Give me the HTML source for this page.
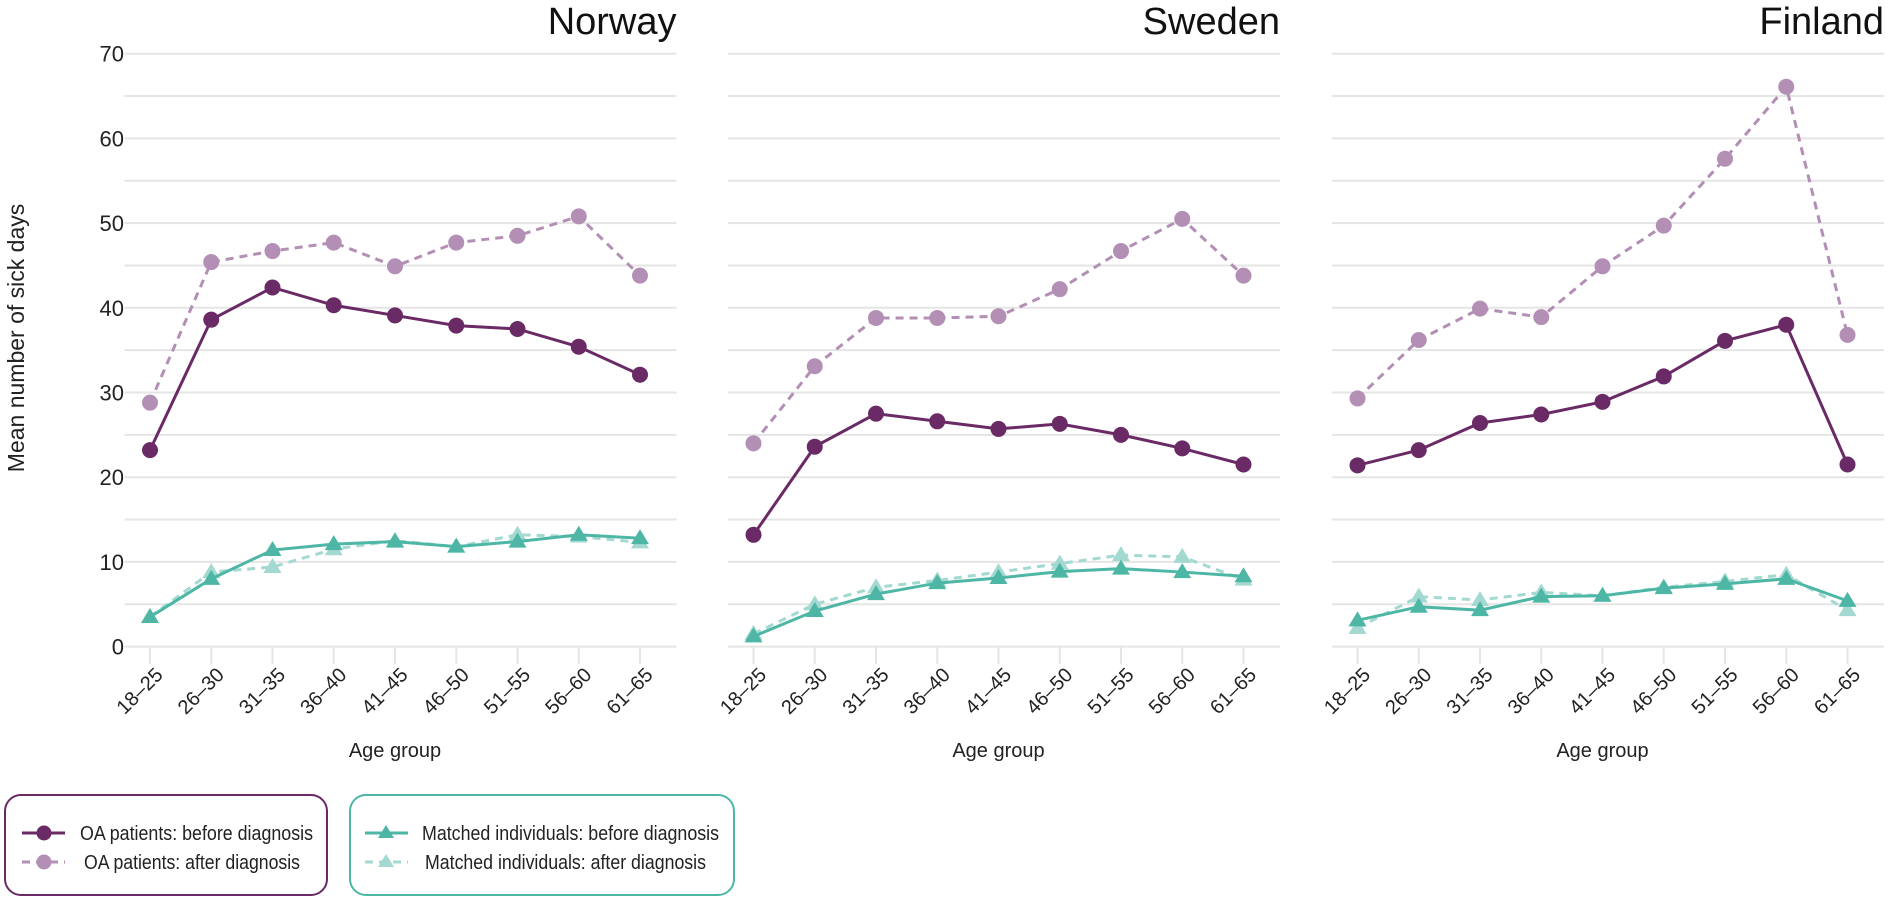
<!DOCTYPE html>
<html><head><meta charset="utf-8"><style>
html,body{margin:0;padding:0;background:#fff;}
svg{display:block;font-family:"Liberation Sans",sans-serif;}
</style></head><body>
<svg id="chart" width="1889" height="902" viewBox="0 0 1889 902" xmlns="http://www.w3.org/2000/svg">
<text x="0" y="0" transform="translate(24,338) rotate(-90)" text-anchor="middle" font-size="23" fill="#222">Mean number of sick days</text>
<g id="plots"></g>
<g>
<rect x="5" y="795" width="322" height="100" rx="16" fill="none" stroke="#6a2a66" stroke-width="2"/>
<line x1="22" y1="833" x2="65" y2="833" stroke="#6a2a66" stroke-width="3"/><circle cx="44" cy="833" r="7.5" fill="#6a2a66"/>
<text x="80" y="840" font-size="20" textLength="233" lengthAdjust="spacingAndGlyphs" fill="#222">OA patients: before diagnosis</text>
<line x1="22" y1="862" x2="65" y2="862" stroke="#b38fb5" stroke-width="3" stroke-dasharray="8 6"/><circle cx="44" cy="862" r="7.5" fill="#b38fb5"/>
<text x="84" y="869" font-size="20" textLength="216" lengthAdjust="spacingAndGlyphs" fill="#222">OA patients: after diagnosis</text>
</g>
<g>
<rect x="350" y="795" width="384" height="100" rx="16" fill="none" stroke="#4db6a5" stroke-width="2"/>
<line x1="365" y1="833" x2="408" y2="833" stroke="#4db6a5" stroke-width="3"/><polygon points="386,825 394,838 378,838" fill="#4db6a5"/>
<text x="422" y="840" font-size="20" textLength="297" lengthAdjust="spacingAndGlyphs" fill="#222">Matched individuals: before diagnosis</text>
<line x1="365" y1="862" x2="408" y2="862" stroke="#a3d9d1" stroke-width="3" stroke-dasharray="8 6"/><polygon points="386,854 394,867 378,867" fill="#a3d9d1"/>
<text x="425" y="869" font-size="20" textLength="281" lengthAdjust="spacingAndGlyphs" fill="#222">Matched individuals: after diagnosis</text>
</g>
</svg>
<script>
const categories = ["18–25","26–30","31–35","36–40","41–45","46–50","51–55","56–60","61–65"];
const countries = ["Norway","Sweden","Finland"];
const yTicks = [0,10,20,30,40,50,60,70];
const norwayOaBefore = [23.2,38.6,42.4,40.3,39.1,37.9,37.5,35.4,32.1];
const norwayOaAfter = [28.8,45.4,46.7,47.7,44.9,47.7,48.5,50.8,43.8];
const norwayMatchedBefore = [3.5,8.0,11.4,12.1,12.4,11.8,12.4,13.2,12.8];
const norwayMatchedAfter = [3.5,8.8,9.4,11.5,12.5,11.8,13.2,13.0,12.3];
const swedenOaBefore = [13.2,23.6,27.5,26.6,25.7,26.3,25.0,23.4,21.5];
const swedenOaAfter = [24.0,33.1,38.8,38.8,39.0,42.2,46.7,50.5,43.8];
const swedenMatchedBefore = [1.2,4.2,6.2,7.5,8.1,8.85,9.2,8.8,8.3];
const swedenMatchedAfter = [1.5,5.0,7.0,7.8,8.8,9.8,10.8,10.6,7.9];
const finlandOaBefore = [21.4,23.2,26.4,27.4,28.9,31.9,36.1,38.0,21.5];
const finlandOaAfter = [29.3,36.2,39.9,38.9,44.9,49.7,57.6,66.1,36.8];
const finlandMatchedBefore = [3.1,4.7,4.3,5.9,6.0,6.9,7.4,8.0,5.4];
const finlandMatchedAfter = [2.2,5.9,5.5,6.4,6.0,7.0,7.7,8.5,4.3];

const panelData = [
 [norwayOaBefore,norwayOaAfter,norwayMatchedBefore,norwayMatchedAfter],
 [swedenOaBefore,swedenOaAfter,swedenMatchedBefore,swedenMatchedAfter],
 [finlandOaBefore,finlandOaAfter,finlandMatchedBefore,finlandMatchedAfter]
];
const NS="http://www.w3.org/2000/svg";
const root=document.getElementById('plots');
function mk(tag,attrs,parent){const e=document.createElementNS(NS,tag);for(const k in attrs)e.setAttribute(k,attrs[k]);(parent||root).appendChild(e);return e;}
const y0=646.6, yPer=8.47;
function yScale(v){return y0-v*yPer;}
const gridStarts=[124.5,728,1332], gridW=552;
const seriesStyle=[
 {name:'oa-before',color:'#6a2a66',dash:null,shape:'circle'},
 {name:'oa-after',color:'#b38fb5',dash:'8 6',shape:'circle'},
 {name:'matched-before',color:'#4db6a5',dash:null,shape:'tri'},
 {name:'matched-after',color:'#a3d9d1',dash:'8 6',shape:'tri'}
];
countries.forEach((c,pi)=>{
 const gx=gridStarts[pi];
 const xFirst=gx+25.5, step=61.25;
 const xScale=i=>xFirst+i*step;
 const g=mk('g',{});
 
 
 for(let v=0;v<=70;v+=5){
  const l=mk('line',{x1:gx,x2:gx+gridW,y1:yScale(v),y2:yScale(v),stroke:'#e5e5e5','stroke-width':2},g);
  
  
 }
 if(pi===0){
  yTicks.forEach(v=>{
   const t=mk('text',{x:124,y:yScale(v)+8,'text-anchor':'end','font-size':22,fill:'#222'},g);
   
   
   t.textContent=v;
  });
 }
 const title=mk('text',{x:gx+gridW,y:34,'text-anchor':'end','font-size':38,fill:'#111'},g);
 
 
 title.textContent=c;
 categories.forEach((cat,i)=>{
  const x=xScale(i);
  const tk=mk('line',{x1:x,x2:x,y1:647,y2:664,stroke:'#e5e5e5','stroke-width':2},g);
  
  
  const t=mk('text',{x:0,y:0,'text-anchor':'end','font-size':20,fill:'#222',transform:`translate(${x+14},${676}) rotate(-45)`},g);
  
  
  t.textContent=cat;
 });
 const xt=mk('text',{x:(xScale(0)+xScale(8))/2,y:757,'text-anchor':'middle','font-size':20,fill:'#222'},g);
 
 
 xt.textContent='Age group';
 [3,2,1,0].forEach(si=>{
  const vals=panelData[pi][si], st=seriesStyle[si];
  const sg=mk('g',{},g);
  
  
  const pts=vals.map((v,i)=>xScale(i)+','+yScale(v)).join(' ');
  const pl=mk('polyline',{points:pts,fill:'none',stroke:st.color,'stroke-width':3},sg);
  if(st.dash)pl.setAttribute('stroke-dasharray',st.dash);
  
  
  vals.forEach((v,i)=>{
   const x=xScale(i), y=yScale(v);
   let m;
   if(st.shape==='circle') m=mk('circle',{cx:x,cy:y,r:8,fill:st.color},sg);
   else m=mk('polygon',{points:`${x},${y-9} ${x+9},${y+6} ${x-9},${y+6}`,fill:st.color},sg);
   
   
  });
 });
});
</script>
</body></html>
